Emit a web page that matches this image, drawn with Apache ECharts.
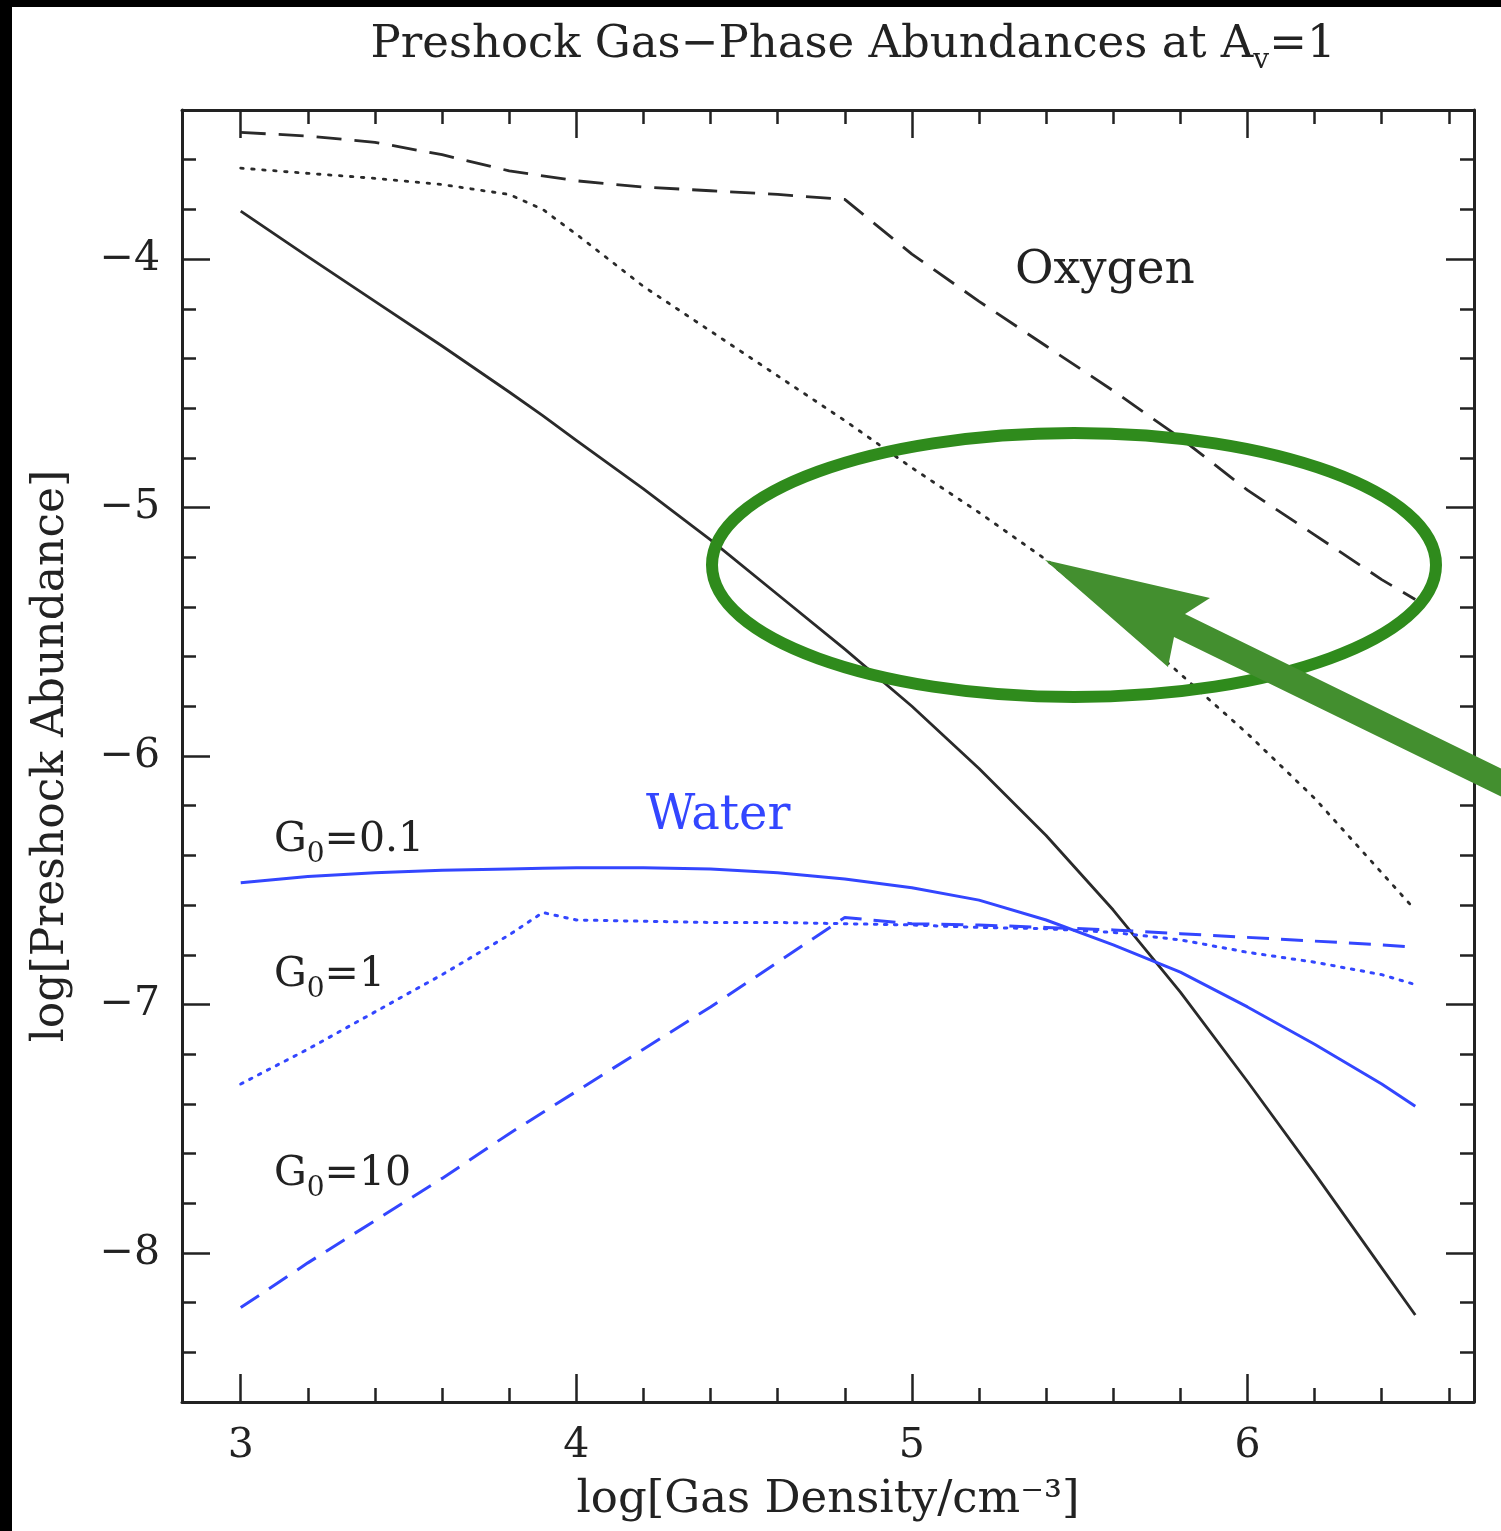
<!DOCTYPE html>
<html><head><meta charset="utf-8">
<script src="https://cdn.jsdelivr.net/npm/echarts@6/dist/echarts.min.js"></script>
<style>html,body{margin:0;padding:0;background:#fff}#c{width:1501px;height:1531px}</style>
</head><body><div id="c"></div>
<script>
// log gas density grid
const density = [3.0,3.2,3.4,3.6,3.8,3.9,4.0,4.2,4.4,4.6,4.8,5.0,5.2,5.4,5.6,5.8,6.0,6.2,6.4,6.5];
// Oxygen (black)
const oxySolid  = [-3.807,-3.99,-4.17,-4.35,-4.535,-4.63,-4.73,-4.925,-5.13,-5.35,-5.57,-5.80,-6.05,-6.32,-6.62,-6.95,-7.31,-7.68,-8.06,-8.25];
const oxyDotted = [-3.634,-3.655,-3.675,-3.70,-3.74,-3.80,-3.90,-4.11,-4.29,-4.47,-4.65,-4.84,-5.02,-5.21,-5.43,-5.67,-5.91,-6.17,-6.47,-6.62];
const oxyDashed = [-3.49,-3.505,-3.53,-3.58,-3.645,-3.665,-3.685,-3.71,-3.725,-3.74,-3.76,-3.98,-4.17,-4.35,-4.53,-4.72,-4.93,-5.11,-5.29,-5.37];
// Water (blue)
const watSolid  = [-6.51,-6.485,-6.47,-6.46,-6.455,-6.452,-6.45,-6.45,-6.455,-6.47,-6.495,-6.53,-6.58,-6.66,-6.76,-6.87,-7.01,-7.16,-7.32,-7.41];
const watDotted = [-7.32,-7.18,-7.03,-6.88,-6.72,-6.63,-6.66,-6.665,-6.67,-6.67,-6.675,-6.68,-6.69,-6.695,-6.71,-6.74,-6.79,-6.83,-6.88,-6.92];
const watDashed = [-8.22,-8.04,-7.87,-7.70,-7.52,-7.435,-7.35,-7.18,-7.01,-6.83,-6.65,-6.675,-6.68,-6.69,-6.70,-6.715,-6.73,-6.745,-6.76,-6.77];
// ticks
const xMajorTicks = [3,4,5,6];
const xTickLabels = ['3','4','5','6'];
const xMinorTicks = [3.2,3.4,3.6,3.8,4.2,4.4,4.6,4.8,5.2,5.4,5.6,5.8,6.2,6.4,6.6];
const yMajorTicks = [-4,-5,-6,-7,-8];
const yTickLabels = ['\u22124','\u22125','\u22126','\u22127','\u22128'];
const yMinorTicks = [-3.6,-3.8,-4.2,-4.4,-4.6,-4.8,-5.2,-5.4,-5.6,-5.8,-6.2,-6.4,-6.6,-6.8,-7.2,-7.4,-7.6,-7.8,-8.2,-8.4];

const FONT = 'DejaVu Serif';
const AX = '#222';
const BLACK = '#2a2a2a';
const BLUE = '#3346ff';
const XMIN = 2.825, XMAX = 6.675, YMIN = -8.6, YMAX = -3.4;

function pairs(ys){ return density.map((x,i)=>[x, ys[i]]); }
function lab(ticks, labels){ return v => { const i = ticks.findIndex(t => Math.abs(t - v) < 1e-6); return i >= 0 ? labels[i] : ''; }; }

function xAx(pos, ticks, len, showLine, label){
  return { type:'value', min:XMIN, max:XMAX, position:pos,
    axisLine:{show:showLine, onZero:false, lineStyle:{color:AX, width:3}},
    axisTick:{show:true, inside:true, length:len, customValues:ticks, lineStyle:{color:AX, width:2.5}},
    axisLabel: label ? {show:true, customValues:xMajorTicks, formatter:lab(xMajorTicks,xTickLabels), margin:24, fontFamily:FONT, fontSize:41, color:'#222'} : {show:false},
    splitLine:{show:false}, minorTick:{show:false} };
}
function yAx(pos, ticks, len, showLine, label){
  return { type:'value', min:YMIN, max:YMAX, position:pos,
    axisLine:{show:showLine, onZero:false, lineStyle:{color:AX, width:3}},
    axisTick:{show:true, inside:true, length:len, customValues:ticks, lineStyle:{color:AX, width:2.5}},
    axisLabel: label ? {show:true, customValues:yMajorTicks, formatter:lab(yMajorTicks,yTickLabels), margin:22, fontFamily:FONT, fontSize:41, color:'#222'} : {show:false},
    splitLine:{show:false}, minorTick:{show:false} };
}

const xA0 = xAx('bottom', xMajorTicks, 28, true, true);
xA0.name = 'log[Gas Density/cm\u207B\u00B3]';
xA0.nameLocation = 'middle'; xA0.nameGap = 76;
xA0.nameTextStyle = {fontFamily:FONT, fontSize:45, color:'#222'};
const yA0 = yAx('left', yMajorTicks, 28, true, true);
yA0.name = 'log[Preshock Abundance]';
yA0.nameLocation = 'middle'; yA0.nameGap = 108; yA0.nameRotate = 90;
yA0.nameTextStyle = {fontFamily:FONT, fontSize:44, color:'#222'};

const chart = echarts.init(document.getElementById('c'), null, {renderer:'canvas'});
const subStyle = {fontFamily:FONT, fontSize:28, lineHeight:28, verticalAlign:'bottom', color:'#222'};
chart.setOption({
  backgroundColor:'#fff',
  animation:false,
  grid:{left:182, top:110, width:1292, height:1292, containLabel:false},
  xAxis:[xA0, xAx('bottom', xMinorTicks, 14, false, false), xAx('top', xMajorTicks, 28, true, false), xAx('top', xMinorTicks, 14, false, false)],
  yAxis:[yA0, yAx('left', yMinorTicks, 14, false, false), yAx('right', yMajorTicks, 28, true, false), yAx('right', yMinorTicks, 14, false, false)],
  series:[
    {name:'O G0=0.1', type:'line', data:pairs(oxySolid), showSymbol:false, smooth:false, lineStyle:{color:BLACK, width:2.8, type:'solid', join:'round'}},
    {name:'O G0=1', type:'line', data:pairs(oxyDotted), showSymbol:false, lineStyle:{color:BLACK, width:2.8, type:[2.5,8.5], cap:'round'}},
    {name:'O G0=10', type:'line', data:pairs(oxyDashed), showSymbol:false, lineStyle:{color:BLACK, width:2.8, type:[25,13]}},
    {name:'H2O G0=0.1', type:'line', data:pairs(watSolid), showSymbol:false, smooth:false, lineStyle:{color:BLUE, width:3, type:'solid', join:'round'}},
    {name:'H2O G0=1', type:'line', data:pairs(watDotted), showSymbol:false, lineStyle:{color:BLUE, width:3, type:[2.5,7.5], cap:'round'}},
    {name:'H2O G0=10', type:'line', data:pairs(watDashed), showSymbol:false, lineStyle:{color:BLUE, width:3, type:[22,12]}}
  ],
  graphic:[
    {type:'rect', shape:{x:0,y:0,width:12,height:1531}, style:{fill:'#000'}, z:100},
    {type:'rect', shape:{x:0,y:0,width:1501,height:7}, style:{fill:'#000'}, z:100},
    {type:'text', x:853, y:45, style:{text:'Preshock Gas\u2212Phase Abundances at A{s|v}=1', align:'center', verticalAlign:'middle',
      fontFamily:FONT, fontSize:45, lineHeight:60, fill:'#222', rich:{s:{fontFamily:FONT, fontSize:28, lineHeight:28, verticalAlign:'bottom', fill:'#222'}}}, z:50},
    {type:'text', x:1015, y:271, style:{text:'Oxygen', align:'left', verticalAlign:'middle', fontFamily:FONT, fontSize:47, fill:'#222'}, z:50},
    {type:'text', x:646, y:817, style:{text:'Water', align:'left', verticalAlign:'middle', fontFamily:FONT, fontSize:48, fill:BLUE}, z:50},
    {type:'text', x:274, y:840, style:{text:'G{s|0}=0.1', align:'left', verticalAlign:'middle', fontFamily:FONT, fontSize:41, lineHeight:58, fill:'#222', rich:{s:subStyle}}, z:50},
    {type:'text', x:274, y:975, style:{text:'G{s|0}=1', align:'left', verticalAlign:'middle', fontFamily:FONT, fontSize:41, lineHeight:58, fill:'#222', rich:{s:subStyle}}, z:50},
    {type:'text', x:274, y:1174, style:{text:'G{s|0}=10', align:'left', verticalAlign:'middle', fontFamily:FONT, fontSize:41, lineHeight:58, fill:'#222', rich:{s:subStyle}}, z:50},
    {type:'ellipse', shape:{cx:1074, cy:565, rx:362, ry:132}, style:{fill:null, stroke:'#2f8b1c', lineWidth:12}, z:60},
    {type:'polygon', shape:{points:[[1045,560],[1210,598],[1185,614],[1590,812],[1578,834],[1174,637],[1168,667]]}, style:{fill:'#438f2f'}, z:61}
  ]
});
</script></body></html>
